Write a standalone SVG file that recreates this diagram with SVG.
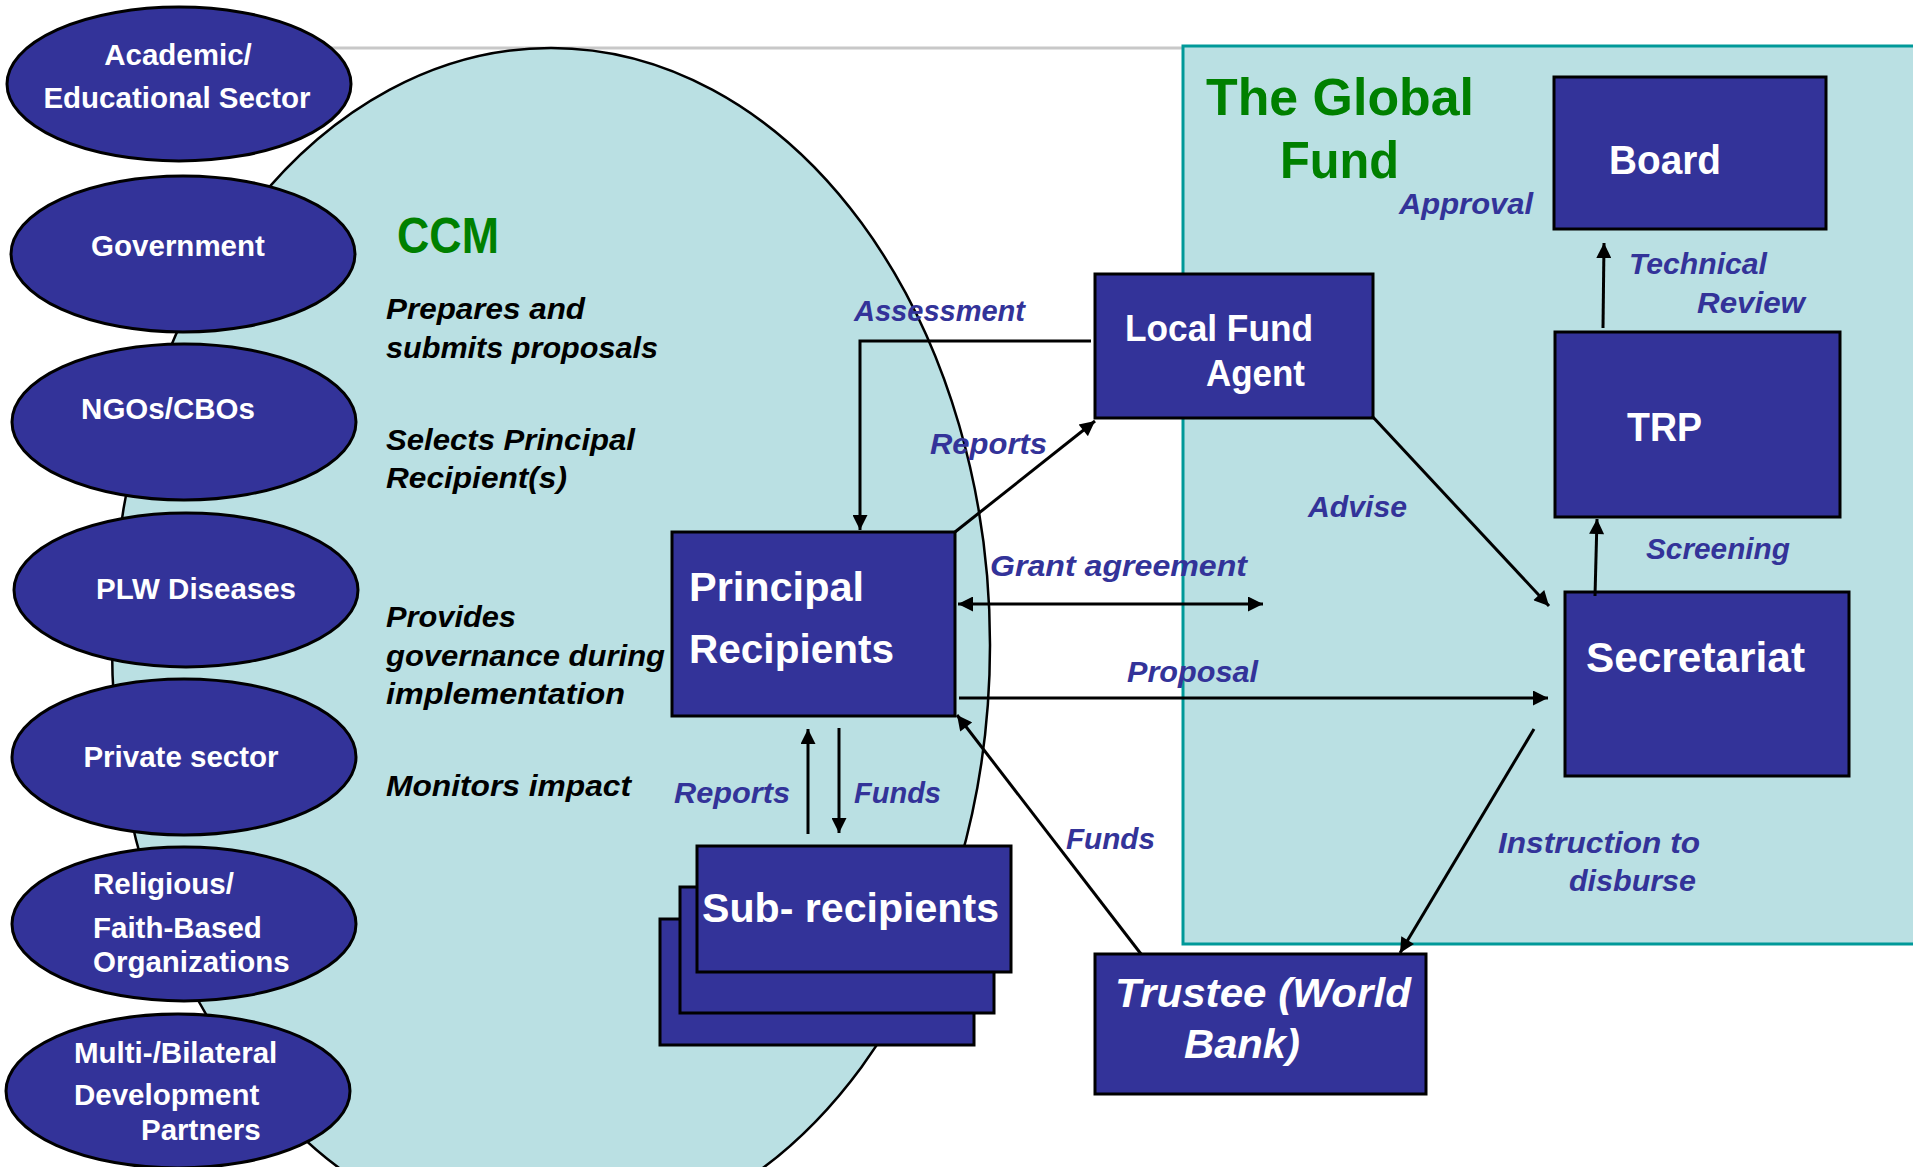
<svg xmlns="http://www.w3.org/2000/svg" width="1913" height="1167" viewBox="0 0 1913 1167">
<defs>
<style>
.bg{fill:#bae0e3}
.node{fill:#333399;stroke:#000;stroke-width:3}
.et{font-family:"Liberation Sans",Arial,sans-serif;font-weight:bold;font-size:29.5px;fill:#fff}
.bt{font-family:"Liberation Sans",Arial,sans-serif;font-weight:bold;fill:#fff}
.gt{font-family:"Liberation Sans",Arial,sans-serif;font-weight:bold;fill:#008000}
.it{font-family:"Liberation Sans",Arial,sans-serif;font-weight:bold;font-style:italic;font-size:30px;fill:#000}
.lb{font-family:"Liberation Sans",Arial,sans-serif;font-weight:bold;font-style:italic;font-size:30px;fill:#333399}
.ln{fill:none;stroke:#000;stroke-width:3}
</style>
<marker id="ah" viewBox="0 0 10 10" refX="10" refY="5" markerWidth="17" markerHeight="15" markerUnits="userSpaceOnUse" orient="auto-start-reverse">
<path d="M0,0 L10,5 L0,10 z" fill="#000"/>
</marker>
</defs>
<rect width="1913" height="1167" fill="#fff"/>
<line x1="300" y1="48" x2="1183" y2="48" stroke="#c8c8c8" stroke-width="3"/>
<g id="globalfund">
<rect x="1183" y="46" width="740" height="898" class="bg" stroke="#009999" stroke-width="3"/>
<text class="gt" x="1206" y="115" font-size="52" textLength="268" lengthAdjust="spacingAndGlyphs">The Global</text>
<text class="gt" x="1280" y="178" font-size="52" textLength="119" lengthAdjust="spacingAndGlyphs">Fund</text>
</g>
<g id="ccm">
<ellipse cx="551" cy="645" rx="439" ry="597" class="bg" stroke="#000" stroke-width="2.5"/>
<text class="gt" x="397" y="253" font-size="50" textLength="102" lengthAdjust="spacingAndGlyphs">CCM</text>
<text class="it" x="386" y="319" textLength="199" lengthAdjust="spacingAndGlyphs">Prepares and</text>
<text class="it" x="386" y="358" textLength="272" lengthAdjust="spacingAndGlyphs">submits proposals</text>
<text class="it" x="386" y="450" textLength="249" lengthAdjust="spacingAndGlyphs">Selects Principal</text>
<text class="it" x="386" y="488" textLength="181" lengthAdjust="spacingAndGlyphs">Recipient(s)</text>
<text class="it" x="386" y="627" textLength="130" lengthAdjust="spacingAndGlyphs">Provides</text>
<text class="it" x="386" y="666" textLength="279" lengthAdjust="spacingAndGlyphs">governance during</text>
<text class="it" x="386" y="704" textLength="239" lengthAdjust="spacingAndGlyphs">implementation</text>
<text class="it" x="386" y="796" textLength="245" lengthAdjust="spacingAndGlyphs">Monitors impact</text>
</g>
<g id="academic">
<ellipse cx="179" cy="84" rx="172" ry="77" class="node" stroke-width="2"/>
<text class="et" x="178" y="65" text-anchor="middle">Academic/</text>
<text class="et" x="177" y="108" text-anchor="middle">Educational Sector</text>
</g>
<g id="government">
<ellipse cx="183" cy="254" rx="172" ry="78" class="node" stroke-width="2"/>
<text class="et" x="178" y="256" text-anchor="middle">Government</text>
</g>
<g id="ngos">
<ellipse cx="184" cy="422" rx="172" ry="78" class="node" stroke-width="2"/>
<text class="et" x="168" y="419" text-anchor="middle">NGOs/CBOs</text>
</g>
<g id="plw">
<ellipse cx="186" cy="590" rx="172" ry="77" class="node" stroke-width="2"/>
<text class="et" x="196" y="599" text-anchor="middle">PLW Diseases</text>
</g>
<g id="private">
<ellipse cx="184" cy="757" rx="172" ry="78" class="node" stroke-width="2"/>
<text class="et" x="181" y="767" text-anchor="middle">Private sector</text>
</g>
<g id="religious">
<ellipse cx="184" cy="924" rx="172" ry="77" class="node" stroke-width="2"/>
<text class="et" x="93" y="894">Religious/</text>
<text class="et" x="93" y="938">Faith-Based</text>
<text class="et" x="93" y="972">Organizations</text>
</g>
<g id="multilateral">
<ellipse cx="178" cy="1091" rx="172" ry="77" class="node" stroke-width="2"/>
<text class="et" x="74" y="1063">Multi-/Bilateral</text>
<text class="et" x="74" y="1105">Development</text>
<text class="et" x="141" y="1140">Partners</text>
</g>
<g id="pr">
<rect x="672" y="532" width="283" height="184" class="node"/>
<text class="bt" x="689" y="601" font-size="41" textLength="175" lengthAdjust="spacingAndGlyphs">Principal</text>
<text class="bt" x="689" y="663" font-size="41" textLength="205" lengthAdjust="spacingAndGlyphs">Recipients</text>
</g>
<g id="subrecipients">
<rect x="660" y="919" width="314" height="126" class="node"/>
<rect x="680" y="887" width="314" height="126" class="node"/>
<rect x="697" y="846" width="314" height="126" class="node"/>
<text class="bt" x="702" y="922" font-size="41" textLength="297" lengthAdjust="spacingAndGlyphs">Sub- recipients</text>
</g>
<g id="lfa">
<rect x="1095" y="274" width="278" height="144" class="node"/>
<text class="bt" x="1125" y="341" font-size="36" textLength="188" lengthAdjust="spacingAndGlyphs">Local Fund</text>
<text class="bt" x="1206" y="386" font-size="36" textLength="99" lengthAdjust="spacingAndGlyphs">Agent</text>
</g>
<g id="board">
<rect x="1554" y="77" width="272" height="152" class="node"/>
<text class="bt" x="1609" y="174" font-size="40" textLength="112" lengthAdjust="spacingAndGlyphs">Board</text>
</g>
<g id="trp">
<rect x="1555" y="332" width="285" height="185" class="node"/>
<text class="bt" x="1627" y="441" font-size="40" textLength="75" lengthAdjust="spacingAndGlyphs">TRP</text>
</g>
<g id="secretariat">
<rect x="1565" y="592" width="284" height="184" class="node"/>
<text class="bt" x="1586" y="672" font-size="42" textLength="219" lengthAdjust="spacingAndGlyphs">Secretariat</text>
</g>
<g id="trustee">
<rect x="1095" y="954" width="331" height="140" class="node"/>
<text class="bt" x="1115" y="1007" font-size="41" font-style="italic" textLength="296" lengthAdjust="spacingAndGlyphs">Trustee (World</text>
<text class="bt" x="1184" y="1058" font-size="41" font-style="italic" textLength="116" lengthAdjust="spacingAndGlyphs">Bank)</text>
</g>
<g id="connectors">
<polyline class="ln" points="1091,341 860,341 860,530" marker-end="url(#ah)"/>
<line class="ln" x1="955" y1="532" x2="1095" y2="421" marker-end="url(#ah)"/>
<line class="ln" x1="1372" y1="416" x2="1549" y2="606" marker-end="url(#ah)"/>
<line class="ln" x1="958" y1="604" x2="1263" y2="604" marker-start="url(#ah)" marker-end="url(#ah)"/>
<line class="ln" x1="959" y1="698" x2="1548" y2="698" marker-end="url(#ah)"/>
<line class="ln" x1="1603" y1="328" x2="1604" y2="243" marker-end="url(#ah)"/>
<line class="ln" x1="1595" y1="596" x2="1597" y2="519" marker-end="url(#ah)"/>
<line class="ln" x1="1534" y1="729" x2="1400" y2="953" marker-end="url(#ah)"/>
<line class="ln" x1="1141" y1="954" x2="957" y2="715" marker-end="url(#ah)"/>
<line class="ln" x1="808" y1="834" x2="808" y2="729" marker-end="url(#ah)"/>
<line class="ln" x1="839" y1="728" x2="839" y2="833" marker-end="url(#ah)"/>
<text class="lb" x="854" y="321" textLength="171" lengthAdjust="spacingAndGlyphs">Assessment</text>
<text class="lb" x="930" y="454" textLength="117" lengthAdjust="spacingAndGlyphs">Reports</text>
<text class="lb" x="1308" y="517" textLength="99" lengthAdjust="spacingAndGlyphs">Advise</text>
<text class="lb" x="990" y="576" textLength="257" lengthAdjust="spacingAndGlyphs">Grant agreement</text>
<text class="lb" x="1127" y="682" textLength="131" lengthAdjust="spacingAndGlyphs">Proposal</text>
<text class="lb" x="1399" y="214" textLength="134" lengthAdjust="spacingAndGlyphs">Approval</text>
<text class="lb" x="1629" y="274" textLength="138" lengthAdjust="spacingAndGlyphs">Technical</text>
<text class="lb" x="1697" y="313" textLength="108" lengthAdjust="spacingAndGlyphs">Review</text>
<text class="lb" x="1646" y="559" textLength="144" lengthAdjust="spacingAndGlyphs">Screening</text>
<text class="lb" x="1498" y="853" textLength="202" lengthAdjust="spacingAndGlyphs">Instruction to</text>
<text class="lb" x="1569" y="891" textLength="127" lengthAdjust="spacingAndGlyphs">disburse</text>
<text class="lb" x="1066" y="849" textLength="89" lengthAdjust="spacingAndGlyphs">Funds</text>
<text class="lb" x="674" y="803" textLength="116" lengthAdjust="spacingAndGlyphs">Reports</text>
<text class="lb" x="854" y="803" textLength="87" lengthAdjust="spacingAndGlyphs">Funds</text>
</g>
</svg>
